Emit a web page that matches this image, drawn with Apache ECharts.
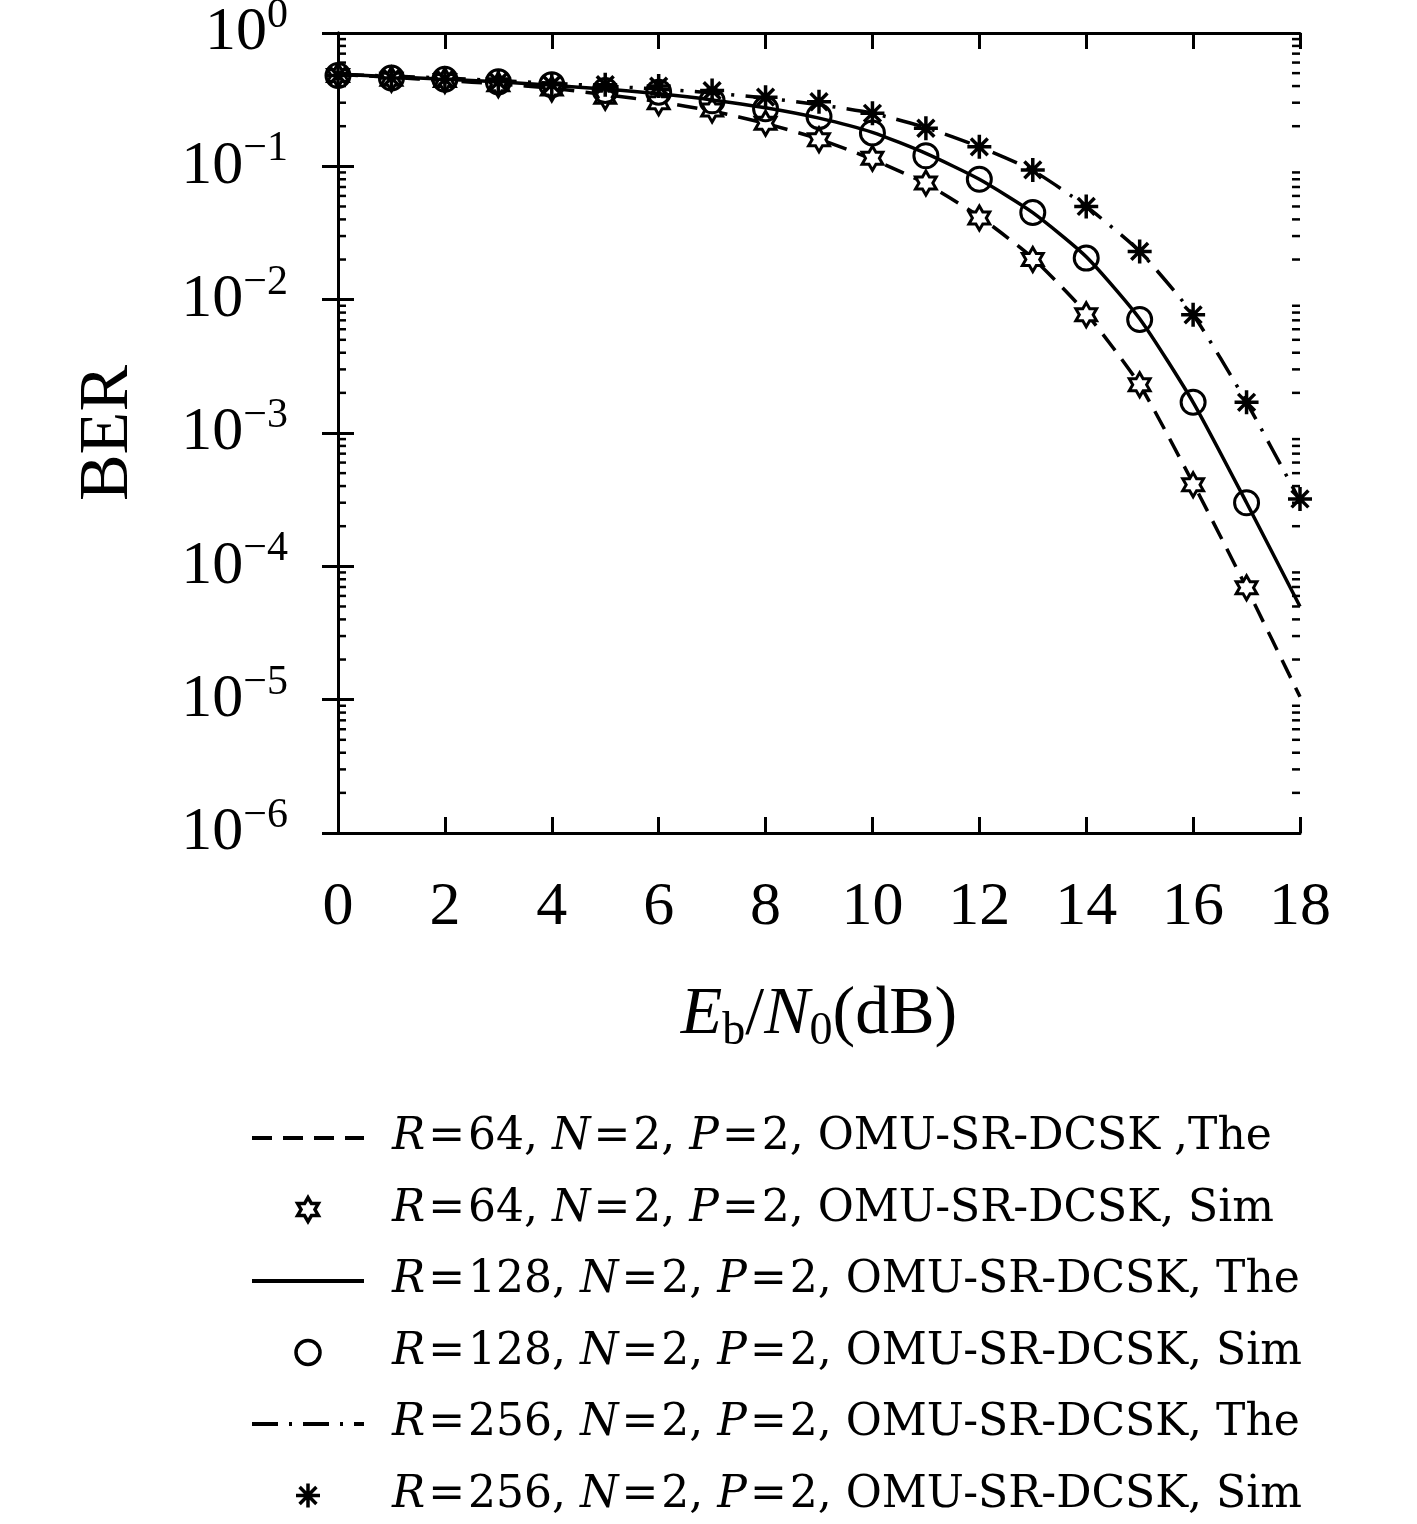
<!DOCTYPE html>
<html>
<head>
<meta charset="utf-8">
<script src="https://cdn.jsdelivr.net/npm/echarts@6/dist/echarts.min.js"></script>
<style>
  html, body { margin: 0; padding: 0; background: #fff; }
  #chart { width: 1417px; height: 1524px; }
</style>
</head>
<body>
<div id="chart"></div>
<script>
// Eb/N0 points (dB)
const snrTheory = [0, 1, 2, 3, 4, 5, 6, 7, 8, 9, 10, 11, 12, 13, 14, 15, 16, 17, 18];
const snrSim = [0, 1, 2, 3, 4, 5, 6, 7, 8, 9, 10, 11, 12, 13, 14, 15, 16, 17];
const snrSim256 = [0, 1, 2, 3, 4, 5, 6, 7, 8, 9, 10, 11, 12, 13, 14, 15, 16, 17, 18];

// BER values
const the64 = [0.49, 0.465, 0.44, 0.415, 0.385, 0.345, 0.305, 0.26, 0.21, 0.16, 0.113, 0.074, 0.042, 0.0205, 0.0079, 0.0023, 4.2e-4, 6.9e-5, 1.05e-5];
const sim64 = [0.48, 0.45, 0.44, 0.41, 0.38, 0.33, 0.30, 0.265, 0.21, 0.158, 0.115, 0.075, 0.041, 0.020, 0.0077, 0.0023, 4.1e-4, 6.9e-5];
const the128 = [0.49, 0.47, 0.45, 0.43, 0.405, 0.38, 0.35, 0.315, 0.275, 0.23, 0.18, 0.125, 0.08, 0.045, 0.021, 0.0072, 0.0017, 3.0e-4, 5.0e-5];
const sim128 = [0.48, 0.46, 0.45, 0.43, 0.41, 0.37, 0.36, 0.31, 0.27, 0.236, 0.178, 0.12, 0.08, 0.045, 0.0205, 0.0071, 0.0017, 3.0e-4];
const the256 = [0.49, 0.475, 0.46, 0.44, 0.42, 0.40, 0.38, 0.355, 0.325, 0.29, 0.25, 0.195, 0.14, 0.093, 0.05, 0.023, 0.0077, 0.0017, 3.1e-4];
const sim256 = [0.48, 0.46, 0.45, 0.43, 0.41, 0.41, 0.40, 0.37, 0.33, 0.305, 0.25, 0.193, 0.14, 0.094, 0.05, 0.023, 0.0077, 0.0017, 3.2e-4];

const seriesNames = ['R64The', 'R64Sim', 'R128The', 'R128Sim', 'R256The', 'R256Sim'];
const legendLabels = [
  '{i|R}{eq|=}64, {i|N}{eq|=}2, {i|P}{eq|=}2, OMU-SR-DCSK ,The',
  '{i|R}{eq|=}64, {i|N}{eq|=}2, {i|P}{eq|=}2, OMU-SR-DCSK, Sim',
  '{i|R}{eq|=}128, {i|N}{eq|=}2, {i|P}{eq|=}2, OMU-SR-DCSK, The',
  '{i|R}{eq|=}128, {i|N}{eq|=}2, {i|P}{eq|=}2, OMU-SR-DCSK, Sim',
  '{i|R}{eq|=}256, {i|N}{eq|=}2, {i|P}{eq|=}2, OMU-SR-DCSK, The',
  '{i|R}{eq|=}256, {i|N}{eq|=}2, {i|P}{eq|=}2, OMU-SR-DCSK, Sim'
];

// minor tick values of the log axis (2..9 x 10^k)
const minorTicks = [];
for (let k = -6; k < 0; k++) {
  for (let m = 2; m <= 9; m++) minorTicks.push(m * Math.pow(10, k));
}

const serif = '"Liberation Serif", "DejaVu Serif", serif';
const legendFont = '"DejaVu Serif", "Liberation Serif", serif';

// hexagram outline and asterisk paths
const hexagram = (function () {
  const R = 10, r = R / Math.sqrt(3);
  let d = '';
  for (let i = 0; i < 12; i++) {
    const a = -Math.PI / 2 + i * Math.PI / 6;
    const rr = i % 2 === 0 ? R : r;
    d += (i === 0 ? 'M' : 'L') + (rr * Math.cos(a)).toFixed(3) + ',' + (rr * Math.sin(a)).toFixed(3);
  }
  return 'path://' + d + 'Z';
})();
const asterisk = 'path://M0,-10L0,10M-10,0L10,0M-7,-7L7,7M-7,7L7,-7';

function pairs(xs, ys) {
  return ys.map((y, i) => [xs[i], y]);
}

const chart = echarts.init(document.getElementById('chart'));

const axisLine = { show: true, lineStyle: { color: '#000', width: 3 } };
const axisTick = { inside: true, length: 16, lineStyle: { color: '#000', width: 3 } };

const option = {
  backgroundColor: '#fff',
  animation: false,
  grid: { left: 338, right: 117, top: 33, bottom: 691, containLabel: false, outerBoundsMode: 'none' },
  xAxis: [
    {
      type: 'value', min: 0, max: 18, interval: 2,
      name: '{i|E}{sub|b}/{i|N}{sub|0}(dB)',
      nameLocation: 'middle', nameGap: 142,
      nameTextStyle: {
        fontFamily: serif, fontSize: 68, color: '#000',
        rich: {
          i: { fontFamily: serif, fontSize: 68, fontStyle: 'italic', color: '#000' },
          sub: { fontFamily: serif, fontSize: 46, color: '#000', padding: [34, 0, 0, 0] }
        }
      },
      axisLine: axisLine,
      axisTick: axisTick,
      axisLabel: { fontFamily: serif, fontSize: 62, color: '#000', margin: 44 },
      splitLine: { show: false }
    },
    {
      type: 'value', min: 0, max: 18, interval: 2, position: 'top',
      axisLine: axisLine,
      axisTick: axisTick,
      axisLabel: { show: false },
      splitLine: { show: false }
    }
  ],
  yAxis: [
    {
      type: 'log', logBase: 10, min: 1e-6, max: 1,
      name: 'BER', nameLocation: 'middle', nameGap: 194, nameRotate: 90,
      nameTextStyle: { fontFamily: serif, fontSize: 70, color: '#000' },
      axisLine: axisLine,
      axisTick: axisTick,
      axisLabel: {
        margin: 50,
        formatter: function (v) {
          const e = Math.round(Math.log10(v));
          return '{b|10}{s|' + (e < 0 ? '\u2212' + (-e) : e) + '}';
        },
        rich: {
          b: { fontFamily: serif, fontSize: 62, color: '#000' },
          s: { fontFamily: serif, fontSize: 42, color: '#000', padding: [0, 0, 34, 0] }
        }
      },
      splitLine: { show: false }
    },
    {
      type: 'log', logBase: 10, min: 1e-6, max: 1, position: 'right',
      axisLine: axisLine,
      axisTick: axisTick,
      axisLabel: { show: false },
      splitLine: { show: false }
    }
  ],
  legend: {
    orient: 'vertical',
    left: 250, top: 1113, padding: 0,
    itemWidth: 112, itemHeight: 24, itemGap: 21.5,
    data: seriesNames,
    lineStyle: { width: 4 },
    itemStyle: { borderWidth: 3.5 },
    formatter: function (name) {
      return legendLabels[seriesNames.indexOf(name)];
    },
    textStyle: {
      fontFamily: legendFont, fontSize: 44, color: '#000', lineHeight: 50,
      padding: [0, 0, 0, 23],
      rich: {
        i: { fontFamily: legendFont, fontSize: 44, fontStyle: 'italic', color: '#000', lineHeight: 50 },
        eq: { fontFamily: legendFont, fontSize: 44, color: '#000', lineHeight: 50, padding: [0, 3, 0, 3] }
      }
    }
  },
  series: [
    {
      name: 'R64The', type: 'line', data: pairs(snrTheory, the64), symbol: 'none', smooth: 0.2,
      itemStyle: { color: '#000', opacity: 0 },
      lineStyle: { color: '#000', width: 3.5, type: [20, 11], opacity: 1 }, z: 3
    },
    {
      name: 'R64Sim', type: 'scatter', data: pairs(snrSim, sim64), symbol: hexagram, symbolSize: 24,
      symbolKeepAspect: true,
      itemStyle: { color: '#fff', borderColor: '#000', borderWidth: 3, opacity: 1 }, z: 4
    },
    {
      name: 'R128The', type: 'line', data: pairs(snrTheory, the128), symbol: 'none', smooth: 0.2,
      itemStyle: { color: '#000', opacity: 0 },
      lineStyle: { color: '#000', width: 3.5, type: 'solid', opacity: 1 }, z: 3
    },
    {
      name: 'R128Sim', type: 'scatter', data: pairs(snrSim, sim128), symbol: 'circle', symbolSize: 24,
      itemStyle: { color: 'rgba(255,255,255,0)', borderColor: '#000', borderWidth: 3, opacity: 1 }, z: 4
    },
    {
      name: 'R256The', type: 'line', data: pairs(snrTheory, the256), symbol: 'none', smooth: 0.2,
      itemStyle: { color: '#000', opacity: 0 },
      lineStyle: { color: '#000', width: 3.5, type: [26, 11, 3, 11], opacity: 1 }, z: 3
    },
    {
      name: 'R256Sim', type: 'scatter', data: pairs(snrSim256, sim256), symbol: asterisk, symbolSize: 24,
      symbolKeepAspect: true,
      itemStyle: { color: '#000', borderColor: '#000', borderWidth: 3.5, opacity: 1 }, z: 4
    },
    {
      name: 'minorTicks', type: 'custom', silent: true, clip: false, z: 5,
      data: minorTicks.map(v => [0, v]),
      renderItem: function (params, api) {
        const y = api.coord([0, api.value(1)])[1];
        const cs = params.coordSys;
        const len = 8;
        return {
          type: 'group',
          children: [
            { type: 'line', shape: { x1: cs.x, y1: y, x2: cs.x + len, y2: y }, style: { stroke: '#000', lineWidth: 2.5 } },
            { type: 'line', shape: { x1: cs.x + cs.width, y1: y, x2: cs.x + cs.width - len, y2: y }, style: { stroke: '#000', lineWidth: 2.5 } }
          ]
        };
      }
    }
  ]
};

chart.setOption(option);
</script>
</body>
</html>
